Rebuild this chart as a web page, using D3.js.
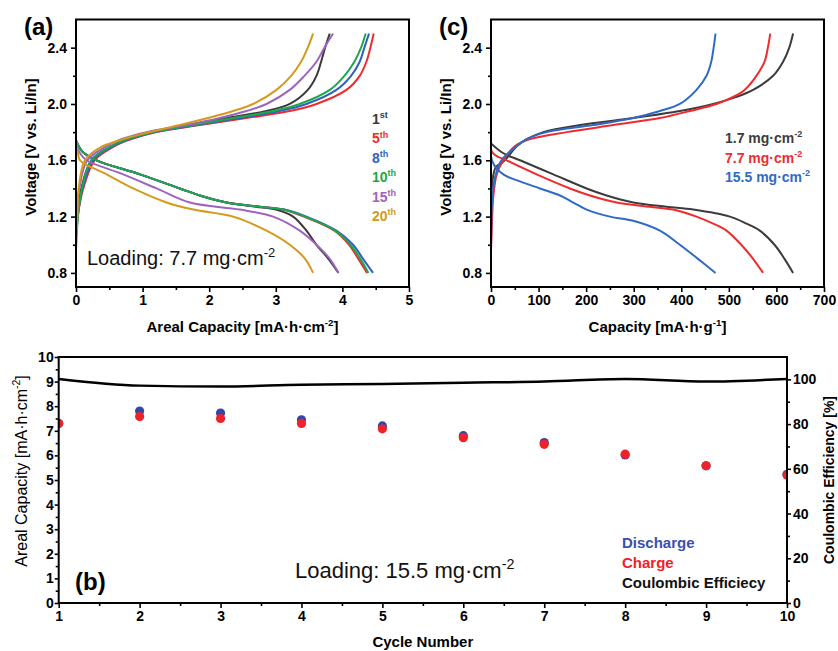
<!DOCTYPE html>
<html>
<head>
<meta charset="utf-8">
<script src="https://cdn.jsdelivr.net/npm/d3@7"></script>
<style>
  body { margin: 0; background: #fff; }
  svg { font-family: "Liberation Sans", Arial, sans-serif; }
  .tick text { font-size: 14px; font-weight: bold; fill: #000; }
</style>
</head>
<body>
<script>
// ---------------------------------------------------------------------------
// data: [capacity, voltage]
// ---------------------------------------------------------------------------

// panel (a) - areal capacity vs voltage, 7.7 mg/cm2, cycles 1..20
const cycleLabels = ['1', '5', '8', '10', '15', '20'];
const cycleSup = ['st', 'th', 'th', 'th', 'th', 'th'];

const chargeA1 = [[0,1.05],[0.03,1.25],[0.08,1.4],[0.23,1.6],[0.53,1.7],[0.76,1.75],[1.11,1.8],[1.66,1.85],[2.26,1.9],[2.86,1.95],[3.21,2.0],[3.48,2.1],[3.61,2.2],[3.68,2.3],[3.74,2.4],[3.81,2.5]];
const chargeA5 = [[0,1.1],[0.04,1.25],[0.11,1.4],[0.28,1.6],[0.58,1.7],[0.83,1.75],[1.21,1.8],[1.86,1.85],[2.56,1.9],[3.21,1.95],[3.61,2.0],[4.06,2.1],[4.26,2.2],[4.36,2.3],[4.42,2.4],[4.47,2.5]];
const chargeA8 = [[0,1.05],[0.04,1.25],[0.1,1.4],[0.26,1.6],[0.56,1.7],[0.81,1.75],[1.18,1.8],[1.81,1.85],[2.46,1.9],[3.06,1.95],[3.46,2.0],[3.91,2.1],[4.13,2.2],[4.26,2.3],[4.33,2.4],[4.4,2.5]];
const chargeA10 = [[0,1.0],[0.04,1.25],[0.09,1.4],[0.23,1.6],[0.53,1.7],[0.78,1.75],[1.16,1.8],[1.76,1.85],[2.36,1.9],[2.96,1.95],[3.36,2.0],[3.81,2.1],[4.03,2.2],[4.18,2.3],[4.28,2.4],[4.35,2.5]];
const chargeA15 = [[0,1.05],[0.02,1.25],[0.05,1.4],[0.17,1.6],[0.46,1.7],[0.68,1.75],[1.06,1.8],[1.66,1.85],[2.16,1.9],[2.56,1.95],[2.86,2.0],[3.21,2.1],[3.43,2.2],[3.61,2.3],[3.73,2.4],[3.86,2.5]];
const chargeA20 = [[0,0.95],[0.02,1.2],[0.04,1.4],[0.135,1.6],[0.36,1.69],[0.71,1.75],[1.1,1.8],[1.56,1.85],[1.98,1.9],[2.36,1.95],[2.66,2.0],[3.01,2.1],[3.23,2.2],[3.38,2.3],[3.48,2.4],[3.56,2.5]];

const dischargeA1 = [[0,1.74],[0.1,1.66],[0.31,1.6],[0.96,1.5],[1.56,1.4],[1.86,1.35],[2.26,1.3],[2.7,1.27],[3.0,1.25],[3.26,1.2],[3.46,1.1],[3.61,1.0],[3.79,0.9],[3.94,0.8]];
const dischargeA5 = [[0,1.74],[0.1,1.66],[0.31,1.6],[0.96,1.5],[1.56,1.4],[1.86,1.35],[2.26,1.3],[2.76,1.27],[3.11,1.25],[3.42,1.2],[3.88,1.1],[4.1,1.0],[4.24,0.9],[4.37,0.8]];
const dischargeA8 = [[0,1.74],[0.1,1.66],[0.31,1.6],[0.96,1.5],[1.56,1.4],[1.86,1.35],[2.26,1.3],[2.76,1.27],[3.13,1.25],[3.46,1.2],[3.91,1.1],[4.16,1.0],[4.31,0.9],[4.46,0.8]];
const dischargeA10 = [[0,1.74],[0.1,1.66],[0.31,1.6],[0.96,1.5],[1.56,1.4],[1.86,1.35],[2.26,1.3],[2.76,1.27],[3.12,1.25],[3.44,1.2],[3.89,1.1],[4.12,1.0],[4.27,0.9],[4.39,0.8]];
const dischargeA15 = [[0,1.72],[0.06,1.65],[0.16,1.6],[0.71,1.5],[1.21,1.4],[1.71,1.3],[2.46,1.25],[2.96,1.2],[3.36,1.1],[3.61,1.0],[3.81,0.9],[3.94,0.8]];
const dischargeA20 = [[0,2.35],[0.005,1.72],[0.03,1.65],[0.06,1.6],[0.46,1.5],[0.86,1.4],[1.36,1.3],[1.76,1.25],[2.36,1.2],[2.86,1.1],[3.21,1.0],[3.44,0.9],[3.56,0.8]];

// panel (c) - specific capacity vs voltage for three loadings
const loadingLabels = ['1.7 mg\u00b7cm', '7.7 mg\u00b7cm', '15.5 mg\u00b7cm'];

const chargeC17 = [[0,1.1],[1,1.3],[3,1.45],[10,1.55],[29,1.6],[54,1.7],[75,1.75],[110,1.8],[187,1.85],[299,1.9],[397,1.95],[467,2.0],[516,2.05],[551,2.1],[593,2.2],[614,2.3],[627,2.4],[635,2.5]];
const chargeC77 = [[0,0.95],[2,1.15],[5,1.35],[12,1.5],[26,1.6],[50,1.7],[82,1.75],[159,1.8],[257,1.85],[355,1.9],[418,1.95],[474,2.0],[509,2.05],[533,2.1],[558,2.2],[575,2.3],[582,2.4],[587,2.5]];
const chargeC155 = [[0,0.95],[1,1.2],[3,1.35],[10,1.5],[22,1.6],[54,1.7],[75,1.75],[117,1.8],[215,1.85],[299,1.9],[355,1.95],[397,2.0],[432,2.1],[453,2.2],[463,2.3],[468,2.4],[472,2.5]];

const dischargeC17 = [[0,1.72],[26,1.65],[61,1.6],[131,1.5],[201,1.4],[243,1.35],[299,1.3],[369,1.27],[425,1.25],[502,1.2],[537,1.15],[565,1.1],[596,1.0],[617,0.9],[635,0.8]];
const dischargeC77 = [[0,2.35],[2,1.66],[33,1.6],[96,1.5],[166,1.4],[208,1.35],[264,1.3],[334,1.27],[383,1.25],[432,1.2],[467,1.15],[495,1.1],[526,1.0],[551,0.9],[572,0.8]];
const dischargeC155 = [[0,2.28],[2,1.6],[26,1.5],[61,1.45],[103,1.4],[145,1.35],[173,1.3],[201,1.25],[250,1.2],[299,1.17],[355,1.1],[397,1.0],[435,0.9],[472,0.8]];

// panel (b) - cycling at 15.5 mg/cm2
const cycles = [1, 2, 3, 4, 5, 6, 7, 8, 9, 10];
const dischargeCap = [7.3, 7.8, 7.72, 7.45, 7.2, 6.8, 6.52, 6.02, 5.58, 5.23];
const chargeCap = [7.3, 7.58, 7.5, 7.3, 7.08, 6.72, 6.45, 6.05, 5.58, 5.2];
const coulombicEff = [100.2, 97.2, 96.8, 97.6, 97.9, 98.5, 99.0, 100.2, 99.0, 100.2];

const voltTicks = [0.8, 1.2, 1.6, 2.0, 2.4];

// ---------------------------------------------------------------------------
// helpers
// ---------------------------------------------------------------------------
const svg = d3.select('body')
  .append('svg')
  .attr('width', 838)
  .attr('height', 651);

const lineCurve = d3.curveCatmullRom.alpha(0.5);

// text with superscript parts, given as ['normal', ['sup'], ...]
function rich(t, parts, fs) {
  let prev = 0;
  parts.forEach(p => {
    const sup = Array.isArray(p);
    const shift = sup ? -fs * 0.42 : 0;
    const span = t.append('tspan').text(sup ? p[0] : p).attr('dy', shift - prev);
    if (sup) span.attr('font-size', fs * 0.65);
    prev = shift;
  });
  return t;
}

function minorAxis(axisFn, scale, values) {
  return axisFn(scale).tickValues(values).tickSize(3).tickFormat('');
}

function styleAxis(g) {
  g.select('.domain').remove();
  g.selectAll('.tick line').attr('stroke', '#000').attr('stroke-width', 1.6);
}

function frame(g, w, h) {
  g.append('rect')
    .attr('width', w).attr('height', h)
    .attr('fill', 'none')
    .attr('stroke', '#000')
    .attr('stroke-width', 2);
}

function clip(id, w, h) {
  svg.append('clipPath').attr('id', id)
    .append('rect').attr('width', w).attr('height', h);
}

// ---------------------------------------------------------------------------
// voltage profile panels (a) and (c)
// ---------------------------------------------------------------------------
function profilePanel(opt) {
  const w = opt.right - opt.left, h = 287 - 19.5;
  const g = svg.append('g').attr('transform', `translate(${opt.left},19.5)`);
  const x = d3.scaleLinear().domain(opt.xDomain).range([0, w]);
  const y = d3.scaleLinear().domain([0.7, 2.6]).range([h, 0]);

  clip(opt.id, w, h);
  const line = d3.line().x(d => x(d[0])).y(d => y(d[1])).curve(lineCurve);
  const plot = g.append('g').attr('clip-path', `url(#${opt.id})`);
  opt.series.forEach(s => {
    s.data.forEach(arr => {
      plot.append('path')
        .datum(arr)
        .attr('d', line)
        .attr('fill', 'none')
        .attr('stroke', s.color)
        .attr('stroke-width', 2);
    });
  });

  g.append('g').attr('transform', `translate(0,${h})`)
    .call(d3.axisBottom(x).tickValues(opt.xTicks).tickSize(5).tickPadding(3).tickFormat(d3.format('d')))
    .call(styleAxis);
  g.append('g').attr('transform', `translate(0,${h})`)
    .call(minorAxis(d3.axisBottom, x, opt.xMinor)).call(styleAxis);
  g.append('g')
    .call(d3.axisLeft(y).tickValues(voltTicks).tickSize(5).tickPadding(4).tickFormat(d3.format('.1f')))
    .call(styleAxis);
  g.append('g')
    .call(minorAxis(d3.axisLeft, y, [1.0, 1.4, 1.8, 2.2])).call(styleAxis);
  frame(g, w, h);

  // axis titles
  rich(svg.append('text')
    .attr('x', opt.left + w / 2).attr('y', 332)
    .attr('text-anchor', 'middle')
    .attr('font-size', 15).attr('font-weight', 'bold'), opt.xTitle, 15);
  svg.append('text')
    .attr('transform', `translate(${opt.left - 40},147) rotate(-90)`)
    .attr('text-anchor', 'middle')
    .attr('font-size', 15).attr('font-weight', 'bold')
    .text('Voltage [V vs. Li/In]');

  svg.append('text')
    .attr('x', opt.left - 52).attr('y', 35)
    .attr('font-size', 24).attr('font-weight', 'bold')
    .text(opt.tag);

  // legend
  opt.series.forEach((s, i) => {
    rich(svg.append('text')
      .attr('x', opt.legendX).attr('y', opt.legendY + i * opt.legendStep)
      .attr('font-size', 14).attr('font-weight', 'bold')
      .attr('fill', s.color), s.label, 14);
  });
}

// (a)
const colorsA = ['#3a3a3a', '#ef2b2d', '#2f62c0', '#1fa64c', '#9d63bd', '#d49a1c'];
const chargeA = [chargeA1, chargeA5, chargeA8, chargeA10, chargeA15, chargeA20];
const dischargeA = [dischargeA1, dischargeA5, dischargeA8, dischargeA10, dischargeA15, dischargeA20];
const seriesA = cycleLabels.map((c, i) => ({
  label: [c, [cycleSup[i]]],
  color: colorsA[i],
  data: [chargeA[i], dischargeA[i]]
}));
profilePanel({
  id: 'clipA', tag: '(a)', left: 76, right: 409,
  xDomain: [0, 5], xTicks: [0, 1, 2, 3, 4, 5], xMinor: [0.5, 1.5, 2.5, 3.5, 4.5],
  xTitle: ['Areal Capacity [mA\u00b7h\u00b7cm', ['-2'], ']'],
  series: seriesA, legendX: 372, legendY: 124, legendStep: 19.4
});
rich(svg.append('text')
  .attr('x', 87).attr('y', 265)
  .attr('font-size', 20).attr('fill', '#111'), ['Loading: 7.7 mg\u00b7cm', ['-2']], 20);

// (c)
const colorsC = ['#3c3c3c', '#ef2b2d', '#2f6ac4'];
const seriesC = loadingLabels.map((l, i) => ({
  label: [l, ['-2']],
  color: colorsC[i],
  data: [[chargeC17, dischargeC17], [chargeC77, dischargeC77], [chargeC155, dischargeC155]][i]
}));
profilePanel({
  id: 'clipC', tag: '(c)', left: 491, right: 824,
  xDomain: [0, 700], xTicks: d3.range(0, 701, 100), xMinor: d3.range(50, 700, 100),
  xTitle: ['Capacity [mA\u00b7h\u00b7g', ['-1'], ']'],
  series: seriesC, legendX: 725, legendY: 143, legendStep: 19.5
});

// ---------------------------------------------------------------------------
// cycling panel (b)
// ---------------------------------------------------------------------------
(function () {
  const left = 58.7, top = 357, w = 787 - left, h = 603 - top;
  const g = svg.append('g').attr('transform', `translate(${left},${top})`);
  const x = d3.scaleLinear().domain([1, 10]).range([0, w]);
  const y = d3.scaleLinear().domain([0, 10]).range([h, 0]);
  const y2 = d3.scaleLinear().domain([0, 110]).range([h, 0]);

  clip('clipB', w, h);
  const plot = g.append('g').attr('clip-path', 'url(#clipB)');

  plot.append('path')
    .datum(cycles.map((c, i) => [c, coulombicEff[i]]))
    .attr('d', d3.line().x(d => x(d[0])).y(d => y2(d[1])).curve(d3.curveMonotoneX))
    .attr('fill', 'none')
    .attr('stroke', '#000')
    .attr('stroke-width', 2.5);

  plot.selectAll('circle.dis')
    .data(cycles)
    .enter().append('circle')
    .attr('class', 'dis')
    .attr('cx', d => x(d))
    .attr('cy', (d, i) => y(dischargeCap[i]))
    .attr('r', 4.6)
    .attr('fill', '#3248a8');

  plot.selectAll('circle.chg')
    .data(cycles)
    .enter().append('circle')
    .attr('class', 'chg')
    .attr('cx', d => x(d))
    .attr('cy', (d, i) => y(chargeCap[i]))
    .attr('r', 4.6)
    .attr('fill', '#ee2228');

  g.append('g').attr('transform', `translate(0,${h})`)
    .call(d3.axisBottom(x).tickValues(cycles).tickSize(5).tickPadding(3).tickFormat(d3.format('d')))
    .call(styleAxis);
  g.append('g').attr('transform', `translate(0,${h})`)
    .call(minorAxis(d3.axisBottom, x, d3.range(1.5, 10, 1))).call(styleAxis);
  g.append('g')
    .call(d3.axisLeft(y).tickValues(d3.range(0, 11)).tickSize(4).tickPadding(1).tickFormat(d3.format('d')))
    .call(styleAxis);
  g.append('g')
    .call(minorAxis(d3.axisLeft, y, d3.range(0.5, 10, 1))).call(styleAxis);
  g.append('g').attr('transform', `translate(${w},0)`)
    .call(d3.axisRight(y2).tickValues(d3.range(0, 101, 20)).tickSize(4).tickPadding(2).tickFormat(d3.format('d')))
    .call(styleAxis);
  g.append('g').attr('transform', `translate(${w},0)`)
    .call(minorAxis(d3.axisRight, y2, d3.range(10, 101, 20))).call(styleAxis);
  frame(g, w, h);

  // titles
  svg.append('text')
    .attr('x', left + w / 2).attr('y', 647)
    .attr('text-anchor', 'middle')
    .attr('font-size', 15).attr('font-weight', 'bold')
    .text('Cycle Number');
  rich(svg.append('text')
    .attr('transform', 'translate(27,471) rotate(-90)')
    .attr('text-anchor', 'middle')
    .attr('font-size', 16), ['Areal Capacity [mA\u00b7h\u00b7cm', ['-2'], ']'], 16);
  svg.append('text')
    .attr('transform', 'translate(834,480) rotate(-90)')
    .attr('text-anchor', 'middle')
    .attr('font-size', 14).attr('font-weight', 'bold')
    .text('Coulombic Efficiency [%]');

  svg.append('text')
    .attr('x', 75).attr('y', 590)
    .attr('font-size', 24).attr('font-weight', 'bold')
    .text('(b)');
  rich(svg.append('text')
    .attr('x', 295).attr('y', 578)
    .attr('font-size', 22).attr('fill', '#111'), ['Loading: 15.5 mg\u00b7cm', ['-2']], 22);

  // legend
  const legend = [['Discharge', '#3a4fae'], ['Charge', '#ee2228'], ['Coulombic Efficiecy', '#111']];
  legend.forEach((d, i) => {
    svg.append('text')
      .attr('x', 622).attr('y', 548 + i * 20)
      .attr('font-size', 15).attr('font-weight', 'bold')
      .attr('fill', d[1])
      .text(d[0]);
  });
})();
</script>
</body>
</html>
